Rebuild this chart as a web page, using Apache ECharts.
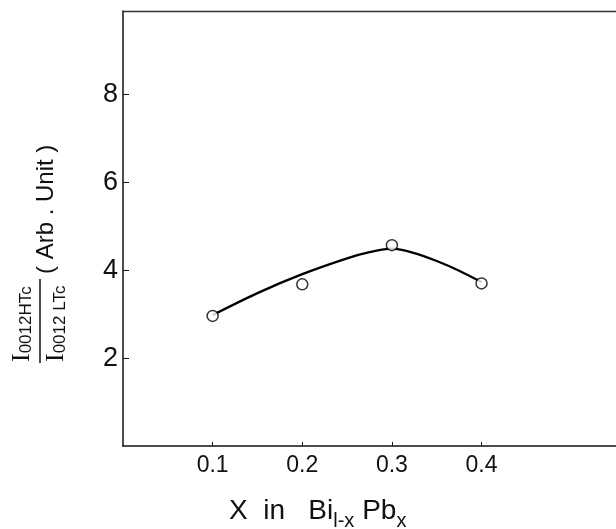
<!DOCTYPE html>
<html>
<head>
<meta charset="utf-8">
<script src="https://cdn.jsdelivr.net/npm/echarts@6/dist/echarts.min.js"></script>
<style>
  html, body { margin: 0; padding: 0; background: #fff; }
  #chart { width: 616px; height: 529px; }
</style>
</head>
<body>
<div id="chart"></div>
<script>
// tick positions
const xTicks = [0.1, 0.2, 0.3, 0.4];
const yTicks = [2, 4, 6, 8];

// measured points (open circles)
const pointX = [0.1, 0.2, 0.3, 0.4];
const pointY = [2.96, 3.68, 4.57, 3.70];

// hand-drawn curve
const curveX = [0.1, 0.15, 0.2, 0.25, 0.275, 0.3, 0.325, 0.35, 0.375, 0.4];
const curveY = [2.98, 3.48, 3.91, 4.27, 4.41, 4.49, 4.39, 4.21, 3.99, 3.73];

const font = 'Liberation Sans, Arial, sans-serif';

const chart = echarts.init(document.getElementById('chart'));

const axisColor = '#111';

const option = {
  backgroundColor: '#fff',
  animation: false,
  grid: { left: 123, top: 11, right: 0, bottom: 83, show: false },
  xAxis: [
    {
      type: 'value', min: 0, max: 0.55, interval: 0.1,
      axisLine: { show: true, lineStyle: { color: axisColor, width: 1.5 } },
      axisTick: { show: true, inside: true, length: 4, customValues: xTicks, lineStyle: { color: axisColor } },
      axisLabel: { customValues: xTicks, color: axisColor, fontSize: 23, fontFamily: font, margin: 8 },
      splitLine: { show: false }
    },
    {
      // top frame line only
      type: 'value', position: 'top', min: 0, max: 0.55,
      axisLine: { show: true, lineStyle: { color: '#333', width: 1.3 } },
      axisTick: { show: false },
      axisLabel: { show: false },
      splitLine: { show: false }
    }
  ],
  yAxis: {
    type: 'value', min: 0, max: 9.9, interval: 2,
    axisLine: { show: true, lineStyle: { color: axisColor, width: 1.5 } },
    axisTick: { show: true, inside: true, length: 6, customValues: yTicks, lineStyle: { color: axisColor } },
    axisLabel: { customValues: yTicks, color: axisColor, fontSize: 27, fontFamily: font, margin: 5 },
    splitLine: { show: false }
  },
  series: [
    {
      type: 'line',
      data: curveX.map((x, i) => [x, curveY[i]]),
      smooth: 0.3,
      showSymbol: false,
      lineStyle: { color: '#000', width: 2.3 },
      z: 2
    },
    {
      type: 'scatter',
      data: pointX.map((x, i) => [x, pointY[i]]),
      symbol: 'circle',
      symbolSize: 11,
      itemStyle: { color: '#fff', borderColor: '#000', borderWidth: 1.5 },
      z: 3
    }
  ],
  graphic: [
    // y axis title: fraction + (Arb . Unit)
    {
      type: 'text', x: 35, y: 362, rotation: Math.PI / 2,
      style: {
        text: '{i|I}{s|0012HTc}',
        textAlign: 'left', textVerticalAlign: 'bottom', fill: '#111',
        rich: {
          i: { fontSize: 26, lineHeight: 26, fontFamily: 'Liberation Serif, serif', verticalAlign: 'bottom', fill: '#111' },
          s: { fontSize: 17, lineHeight: 17, fontFamily: font, verticalAlign: 'bottom', fill: '#111' }
        }
      }
    },
    {
      type: 'line',
      shape: { x1: 40, y1: 363, x2: 40, y2: 279 },
      style: { stroke: '#111', lineWidth: 1.5 }
    },
    {
      type: 'text', x: 69, y: 362, rotation: Math.PI / 2,
      style: {
        text: '{i|I}{s|0012 LTc}',
        textAlign: 'left', textVerticalAlign: 'bottom', fill: '#111',
        rich: {
          i: { fontSize: 26, lineHeight: 26, fontFamily: 'Liberation Serif, serif', verticalAlign: 'bottom', fill: '#111' },
          s: { fontSize: 17, lineHeight: 17, fontFamily: font, verticalAlign: 'bottom', fill: '#111' }
        }
      }
    },
    {
      type: 'text', x: 58, y: 274, rotation: Math.PI / 2,
      style: {
        text: '( Arb . Unit )',
        font: '24px ' + font,
        textAlign: 'left', textVerticalAlign: 'bottom', fill: '#111'
      }
    },
    // x axis title
    {
      type: 'text', x: 229, y: 497,
      style: {
        text: '{a|X  in   Bi}{s|l-x}{a| Pb}{s|x}',
        textAlign: 'left', textVerticalAlign: 'top', fill: '#111',
        rich: {
          a: { fontSize: 28, lineHeight: 28, fontFamily: font, verticalAlign: 'top', fill: '#111' },
          s: { fontSize: 20, lineHeight: 20, fontFamily: font, verticalAlign: 'top', padding: [14, 0, 0, 0], fill: '#111' }
        }
      }
    }
  ]
};

chart.setOption(option);
</script>
</body>
</html>
